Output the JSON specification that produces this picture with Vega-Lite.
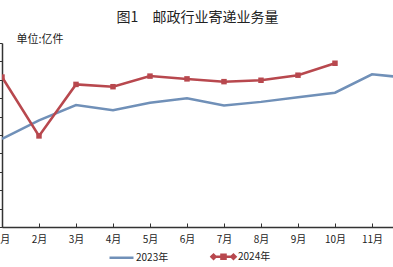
{
  "$schema": "https://vega.github.io/schema/vega-lite/v6.json",
  "width": 391,
  "height": 184,
  "autosize": "none",
  "padding": {"left": 2, "top": 43, "right": 0, "bottom": 40},
  "background": "white",
  "config": {
    "font": "Noto Sans CJK SC",
    "view": {"stroke": null}
  },
  "title": {
    "text": "图1　邮政行业寄递业务量",
    "fontSize": 14,
    "fontWeight": "normal",
    "color": "#222222",
    "anchor": "middle",
    "offset": 8
  },
  "data": {
    "values": [
      {"month": 1, "series": "2023年", "value": 95.7},
      {"month": 2, "series": "2023年", "value": 116},
      {"month": 3, "series": "2023年", "value": 132.6},
      {"month": 4, "series": "2023年", "value": 127},
      {"month": 5, "series": "2023年", "value": 135},
      {"month": 6, "series": "2023年", "value": 140},
      {"month": 7, "series": "2023年", "value": 132},
      {"month": 8, "series": "2023年", "value": 136},
      {"month": 9, "series": "2023年", "value": 141},
      {"month": 10, "series": "2023年", "value": 146},
      {"month": 11, "series": "2023年", "value": 166},
      {"month": 12, "series": "2023年", "value": 162},
      {"month": 1, "series": "2024年", "value": 163},
      {"month": 2, "series": "2024年", "value": 99},
      {"month": 3, "series": "2024年", "value": 155},
      {"month": 4, "series": "2024年", "value": 152.5},
      {"month": 5, "series": "2024年", "value": 164},
      {"month": 6, "series": "2024年", "value": 161},
      {"month": 7, "series": "2024年", "value": 158},
      {"month": 8, "series": "2024年", "value": 159.5},
      {"month": 9, "series": "2024年", "value": 165},
      {"month": 10, "series": "2024年", "value": 178}
    ]
  },
  "encoding": {
    "x": {
      "field": "month",
      "type": "quantitative",
      "scale": {"domain": [1, 11.568], "nice": false, "zero": false},
      "axis": {
        "values": [1, 2, 3, 4, 5, 6, 7, 8, 9, 10, 11, 12],
        "labelExpr": "datum.value + '月'",
        "title": null,
        "grid": false,
        "domainColor": "#333333",
        "domainWidth": 1.5,
        "tickColor": "#333333",
        "tickSize": -4,
        "labelFontSize": 10,
        "labelColor": "#222222",
        "labelPadding": 11,
        "labelFlush": false,
        "labelOverlap": false
      }
    },
    "y": {
      "field": "value",
      "type": "quantitative",
      "scale": {"domain": [0, 200], "nice": false},
      "axis": {
        "values": [0, 20, 40, 60, 80, 100, 120, 140, 160, 180, 200],
        "labels": false,
        "grid": false,
        "domainColor": "#333333",
        "domainWidth": 1.5,
        "tickColor": "#333333",
        "tickSize": 5,
        "title": "单位:亿件",
        "titleAngle": 0,
        "titleAlign": "left",
        "titleBaseline": "middle",
        "titleX": 14,
        "titleY": -4,
        "titleFontSize": 11,
        "titleFontWeight": "normal",
        "titleColor": "#222222"
      }
    },
    "color": {
      "field": "series",
      "type": "nominal",
      "scale": {"domain": ["2023年", "2024年"], "range": ["#7090B8", "#B8484E"]},
      "legend": {
        "title": null,
        "orient": "none",
        "direction": "horizontal",
        "legendX": 106,
        "legendY": 200,
        "symbolType": "stroke",
        "symbolSize": 576,
        "symbolStrokeWidth": 2.5,
        "labelFontSize": 10,
        "labelColor": "#222222",
        "labelOffset": 1,
        "columnPadding": 37,
        "encode": {
          "symbols": {
            "update": {
              "shape": {"signal": "datum.value === '2024年' ? 'M-1,0H1M-1,0L-0.83,-0.17L-0.66,0L-0.83,0.17ZM0.66,0L0.83,-0.17L1,0L0.83,0.17ZM-0.17,-0.17H0.17V0.17H-0.17Z' : 'stroke'"},
              "fill": {"signal": "datum.value === '2024年' ? '#B8484E' : 'transparent'"}
            }
          }
        }
      }
    }
  },
  "layer": [
    {
      "mark": {"type": "line", "strokeWidth": 2.5, "clip": true}
    },
    {
      "transform": [{"filter": "datum.series === '2024年'"}],
      "mark": {"type": "point", "shape": "square", "filled": true, "size": 30, "opacity": 1, "clip": true}
    }
  ]
}
